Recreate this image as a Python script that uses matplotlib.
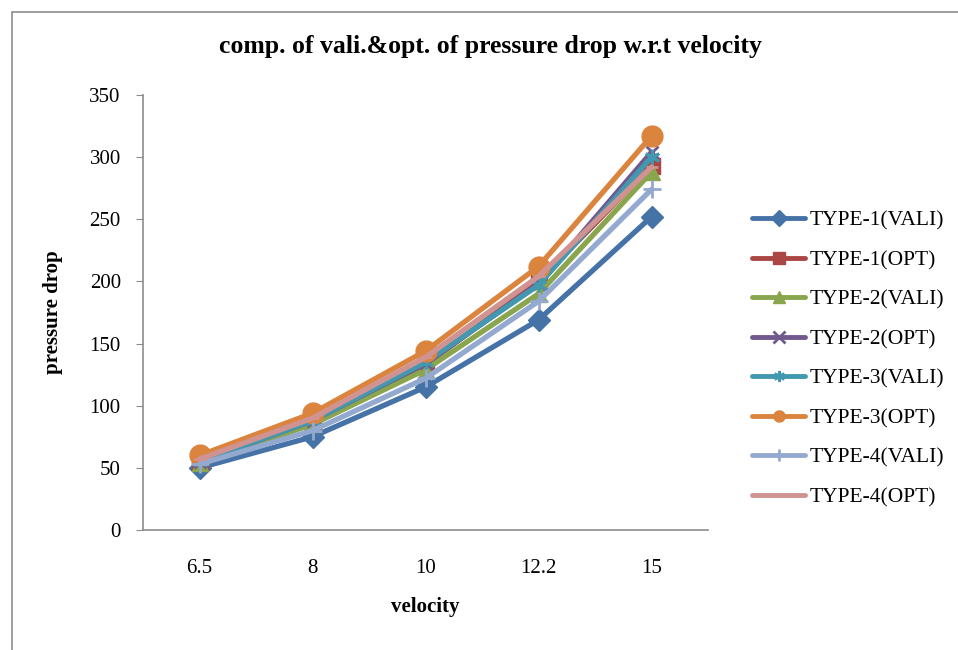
import matplotlib
matplotlib.use("Agg")
import matplotlib.pyplot as plt
from matplotlib.patches import Rectangle

categories = ["6.5", "8", "10", "12.2", "15"]
series_names = ["TYPE-1(VALI)", "TYPE-1(OPT)", "TYPE-2(VALI)", "TYPE-2(OPT)",
                "TYPE-3(VALI)", "TYPE-3(OPT)", "TYPE-4(VALI)", "TYPE-4(OPT)"]
type1_vali = [50, 75, 115, 169, 252]
type1_opt = [55, 87, 133, 200, 293]
type2_vali = [54, 85, 129, 190, 288]
type2_opt = [55, 88, 134, 198, 304]
type3_vali = [55, 88, 135, 197, 300]
type3_opt = [60, 94, 144, 212, 317]
type4_vali = [53, 80, 122, 184, 274]
type4_opt = [57, 90, 139, 204, 292]
all_series = [type1_vali, type1_opt, type2_vali, type2_opt,
              type3_vali, type3_opt, type4_vali, type4_opt]

colors = ["#4572A7", "#AA4643", "#89A54E", "#71588F", "#4198AF", "#DB843D", "#93A9CF", "#D19392"]
markers = ["D", "s", "^", "x", (6, 2, 0), "o", "+", "_"]
msizes = [11, 12, 11, 9, 11, 15, 13, 9]

plt.rcParams["font.family"] = ["Liberation Serif", "DejaVu Serif"]

fig = plt.figure(figsize=(9.58, 6.5), dpi=100)
fig.patches.append(Rectangle((12 / 958, -0.1), 1.2, (650 - 12) / 650 + 0.1,
                             transform=fig.transFigure, fill=False,
                             edgecolor="#8c8c8c", linewidth=1.2))

ax = fig.add_axes([143 / 958, 1 - 530 / 650, (708 - 143) / 958, (530 - 95) / 650])
x = list(range(len(categories)))
for vals, name, c, m, ms in zip(all_series, series_names, colors, markers, msizes):
    ax.plot(x, vals, color=c, linewidth=3.8, marker=m, markersize=ms,
            markeredgewidth=2 if m in ("x", "+", "_") or isinstance(m, tuple) else 1,
            markeredgecolor=c, markerfacecolor=c, label=name,
            solid_capstyle="round", solid_joinstyle="round")

ax.set_xlim(-0.5, len(categories) - 0.5)
ax.set_ylim(0, 350)
ax.set_yticks(range(0, 351, 50))
ax.set_xticks(x)
ax.set_xticklabels(categories)
ax.tick_params(axis="x", which="major", length=0, labelsize=15, pad=21, colors="black")
ax.tick_params(axis="y", which="major", length=5, color="#8c8c8c", labelsize=15, pad=11)
for s in ["top", "right"]:
    ax.spines[s].set_visible(False)
for s in ["left", "bottom"]:
    ax.spines[s].set_color("#8c8c8c")
    ax.spines[s].set_linewidth(1.2)

ax.set_xlabel("velocity", fontsize=15, fontweight="bold")
ax.xaxis.set_label_coords(0.5, -(607 - 530) / 435, transform=ax.transAxes)
ax.xaxis.label.set_va("center")
ax.set_ylabel("pressure drop", fontsize=15, fontweight="bold")
ax.yaxis.set_label_coords(-(143 - 53) / 565, 0.5, transform=ax.transAxes)
ax.yaxis.label.set_va("center")
fig.text(490 / 958, 1 - 47 / 650, "comp. of vali.&opt. of pressure drop w.r.t velocity",
         ha="center", va="center", fontsize=18.5, fontweight="bold")

leg = ax.legend(loc="center left", bbox_to_anchor=(733 / 958, 1 - 359 / 650),
                bbox_transform=fig.transFigure, frameon=False, fontsize=15.5,
                handlelength=2.45, labelspacing=0.9, handletextpad=0.2)
for h in leg.legend_handles:
    h.set_markersize(8)
    h.set_linewidth(3.5)

fig.savefig("out.png", dpi=100)
